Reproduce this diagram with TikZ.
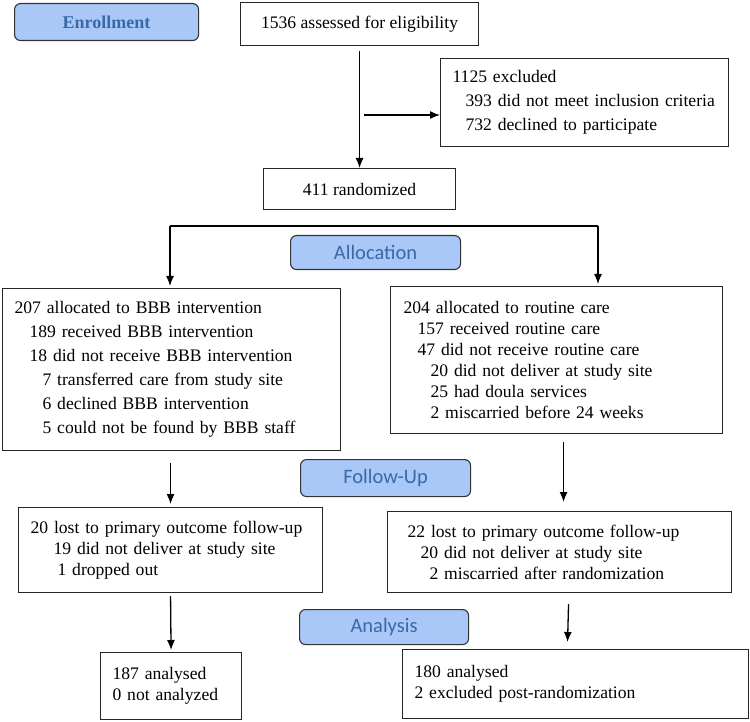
\documentclass[tikz,border=0pt]{standalone}
\usepackage{fontspec}
\setmainfont{Liberation Serif}
\newfontfamily\stagefont{Carlito}
\usetikzlibrary{arrows.meta}

\definecolor{stagefill}{HTML}{A9C8F8}
\definecolor{stagetext}{HTML}{3A69A8}

\tikzset{
  box/.style={draw=black!85, line width=1.1pt, anchor=north west, align=left,
              inner xsep=12pt, inner ysep=0pt, font=\fontsize{17.6}{21}\selectfont},
  cbox/.style={draw=black!85, line width=1.1pt, anchor=north west, align=center,
              inner sep=0pt, font=\fontsize{17.6}{21}\selectfont},
  stage/.style={draw=black!80, line width=1.1pt, rounded corners=6pt, fill=stagefill,
                anchor=north west, inner sep=0pt, text=stagetext,
                font=\stagefont\fontsize{20.5}{24}\selectfont},
  arr/.style={-{Latex[length=10pt,width=8pt]}, line width=1.3pt},
}

\newcommand{\ind}[1]{\hspace*{#1pt}}

\begin{document}
\begin{tikzpicture}[x=1pt,y=-1pt]
  \useasboundingbox (0,0) rectangle (750,722);

  % stage labels
  \node[stage, minimum width=184pt, minimum height=37pt,
        font=\bfseries\fontsize{18}{22}\selectfont] (enrol) at (14,3) {Enrollment};
  \node[stage, minimum width=170pt, minimum height=34pt] (alloc) at (290,235) {Allocation};
  \node[stage, minimum width=170pt, minimum height=37pt] (follow) at (300,459) {Follow-Up};
  \node[stage, minimum width=169pt, minimum height=35pt] (analysis) at (299,609) {Analysis};

  % enrollment
  \node[cbox, minimum width=238pt, minimum height=43pt] (assess) at (240,2)
    {1536 assessed for eligibility};
  \node[box, text width=264pt, minimum height=88pt,
        font=\fontsize{17.6}{24}\selectfont] (excl) at (440,58)
    {1125 excluded\\
     \ind{13}393 did not meet inclusion criteria\\
     \ind{13}732 declined to participate};
  \node[cbox, minimum width=192pt, minimum height=41pt] (rand) at (263,168)
    {411 randomized};

  % allocation
  \node[box, text width=314pt, minimum height=162pt,
        font=\fontsize{17.6}{24}\selectfont] (allocL) at (2,288)
    {207 allocated to BBB intervention\\
     \ind{15}189 received BBB intervention\\
     \ind{15}18 did not receive BBB intervention\\
     \ind{28}7 transferred care from study site\\
     \ind{28}6 declined BBB intervention\\
     \ind{28}5 could not be found by BBB staff};
  \node[box, inner xsep=13pt, text width=306pt, minimum height=147pt] (allocR) at (390,286)
    {204 allocated to routine care\\
     \ind{14}157 received routine care\\
     \ind{14}47 did not receive routine care\\
     \ind{27}20 did not deliver at study site\\
     \ind{27}25 had doula services\\
     \ind{27}2 miscarried before 24 weeks};

  % follow-up
  \node[box, text width=280pt, minimum height=85pt] (lostL) at (18,507)
    {20 lost to primary outcome follow-up\\
     \ind{23}19 did not deliver at study site\\
     \ind{27}1 dropped out};
  \node[box, inner xsep=20pt, text width=304pt, minimum height=81pt] (lostR) at (387,511)
    {22 lost to primary outcome follow-up\\
     \ind{13}20 did not deliver at study site\\
     \ind{22}2 miscarried after randomization};

  % analysis
  \node[box, text width=117pt, minimum height=67pt] (anaL) at (100,652)
    {187 analysed\\
     0 not analyzed};
  \node[box, text width=322pt, minimum height=69pt] (anaR) at (402,649)
    {180 analysed\\
     2 excluded post-randomization};

  % connectors
  \draw[arr] ([yshift=-5pt]assess.south) -- (rand.north);
  \coordinate (exclpt) at (364,115);
  \draw[arr] (exclpt) -- (exclpt -| excl.west);

  \coordinate (splitL) at (170,226);
  \coordinate (splitR) at (598,226);
  \draw[line width=1.3pt] (splitL) -- (splitR);
  \draw[arr] (splitL) -- ([yshift=2pt]splitL |- allocL.north);
  \draw[arr] (splitR) -- ([yshift=2pt]splitR |- allocR.north);

  \draw[arr] ([shift={(-1,12)}]allocL.south) -- ([yshift=3pt]lostL.north);
  \draw[arr] ([shift={(7,8)}]allocR.south) -- ([shift={(4,-9)}]lostR.north);

  \draw[arr] ([yshift=-3pt]lostL.south) -- ([yshift=2pt]anaL.north);
  \draw[arr] ([shift={(9,11)}]lostR.south) -- ([shift={(-8,-7)}]anaR.north);
\end{tikzpicture}
\end{document}
